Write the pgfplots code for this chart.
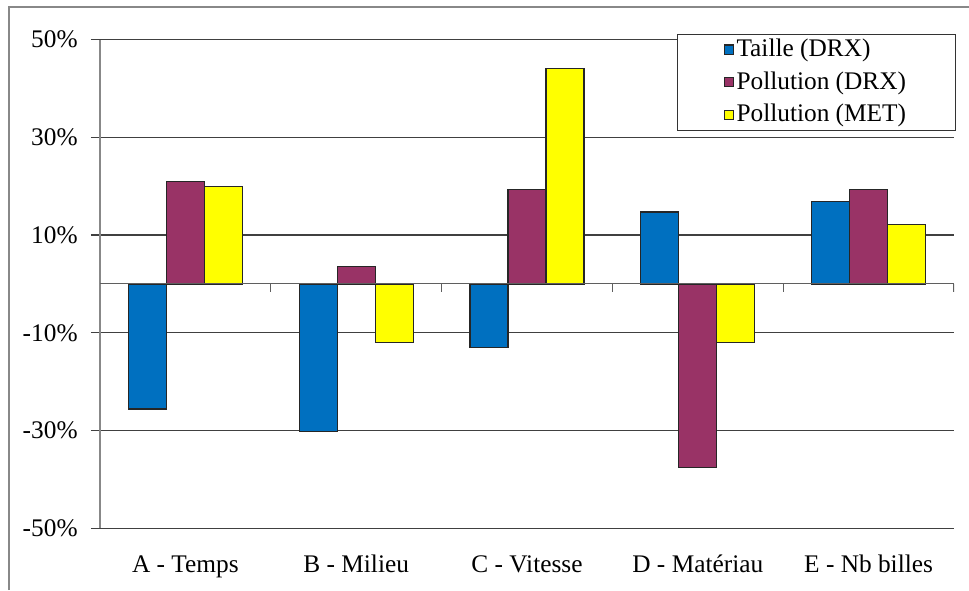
\documentclass[border=0pt]{standalone}
\usepackage{pgfplots}
\pgfplotsset{compat=1.18}
\usepackage{fontspec}
\setmainfont{Liberation Serif}
\definecolor{cblue}{HTML}{0070C0}
\definecolor{cpurple}{HTML}{993366}
\definecolor{cyellow}{HTML}{FFFF00}
\definecolor{gridc}{HTML}{404040}
\definecolor{axc}{HTML}{888888}
\begin{document}
\fontsize{19}{23}\selectfont
\begin{tikzpicture}[font=\fontsize{19}{23}\selectfont]
\useasboundingbox (0pt,0pt) rectangle (726.75pt,442.5pt);
\draw[axc, line width=1pt] (6.75pt,0pt) -- (6.75pt,437.25pt) -- (726.75pt,437.25pt);
\begin{axis}[
  at={(75pt,46.275pt)}, anchor=south west,
  scale only axis, width=640.5pt, height=366.6pt,
  xmin=0, xmax=5, ymin=-50, ymax=50,
  ybar=0pt, bar width=28.5pt,
  axis x line=bottom, axis y line=left,
  axis line style={-},
  x axis line style={draw=none},
  y axis line style={axc, line width=0.8pt},
  xtick={0.5,1.5,2.5,3.5,4.5},
  xticklabels={A - Temps, B - Milieu, C - Vitesse, D - Matériau, E - Nb billes},
  x tick style={draw=none},
  ytick={-50,-30,-10,10,30,50},
  yticklabels={-50\%,-30\%,-10\%,10\%,30\%,50\%},
  ymajorgrids,
  major grid style={draw=gridc, line width=0.8pt},
  y tick style={draw=gridc, line width=0.8pt},
  tick align=outside, major tick length=6.75pt,
  ticklabel style={font=\fontsize{19}{23}\selectfont},
  yticklabel style={xshift=-3.5pt},
  xticklabel style={yshift=-7pt},
  legend cell align=left,
  legend style={at={(1.0023,1.012)}, anchor=north east, draw=black!80, line width=0.8pt,
    inner xsep=35pt, inner ysep=1.5pt, font=\fontsize{19}{23}\selectfont, row sep=4.5pt},
  legend image code/.code={\draw[#1, draw=black!85, line width=0.8pt] (0pt,-3.4pt) rectangle (6.75pt,3.4pt);},
  every axis plot/.append style={draw=black!85, line width=0.9pt},
]
\addplot[fill=cblue] coordinates {(0.5,-25.6) (1.5,-30.2) (2.5,-13.0) (3.5,14.7) (4.5,16.9)};
\addplot[fill=cpurple] coordinates {(0.5,20.9) (1.5,3.5) (2.5,19.3) (3.5,-37.5) (4.5,19.3)};
\addplot[fill=cyellow] coordinates {(0.5,20.0) (1.5,-12.0) (2.5,44.1) (3.5,-12.0) (4.5,12.1)};
\legend{Taille (DRX), Pollution (DRX), Pollution (MET)}
\draw[axc!70!black, line width=0.8pt] (axis cs:0,0) -- (axis cs:5,0);
\pgfplotsinvokeforeach{1,...,5}{\draw[axc!70!black, line width=0.8pt] (axis cs:#1,0) -- ([yshift=-6pt]axis cs:#1,0);}
\end{axis}
\end{tikzpicture}
\end{document}
